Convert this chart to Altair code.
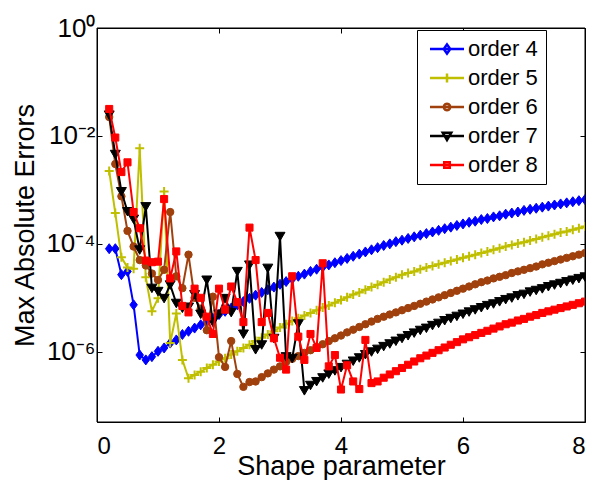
import altair as alt
import pandas as pd

shape_param = [0.2, 0.3, 0.4, 0.5, 0.6, 0.7, 0.8, 0.9, 1.0, 1.1, 1.2, 1.3, 1.4, 1.5, 1.6, 1.7,
               1.8, 1.9, 2.0, 2.1, 2.2, 2.3, 2.4, 2.5, 2.6, 2.7, 2.8, 2.9, 3.0, 3.1, 3.2, 3.3,
               3.4, 3.5, 3.6, 3.7, 3.8, 3.9, 4.0, 4.1, 4.2, 4.3, 4.4, 4.5, 4.6, 4.7, 4.8, 4.9,
               5.0, 5.1, 5.2, 5.3, 5.4, 5.5, 5.6, 5.7, 5.8, 5.9, 6.0, 6.1, 6.2, 6.3, 6.4, 6.5,
               6.6, 6.7, 6.8, 6.9, 7.0, 7.1, 7.2, 7.3, 7.4, 7.5, 7.6, 7.7, 7.8, 7.9, 8.0]

order4 = [8.13e-5, 8.13e-5, 2.69e-5, 3.09e-5, 7.41e-6, 8.71e-7, 7.08e-7, 8.13e-7, 1.02e-6, 1.18e-6,
          1.45e-6, 1.66e-6, 2.09e-6, 2.40e-6, 2.75e-6, 3.16e-6, 3.63e-6, 4.17e-6, 4.90e-6, 5.62e-6,
          6.46e-6, 7.41e-6, 8.51e-6, 9.77e-6, 1.12e-5, 1.26e-5, 1.41e-5, 1.58e-5, 1.78e-5, 2.00e-5,
          2.24e-5, 2.51e-5, 2.75e-5, 3.09e-5, 3.39e-5, 3.72e-5, 4.07e-5, 4.47e-5, 4.90e-5, 5.37e-5,
          5.89e-5, 6.46e-5, 7.08e-5, 7.76e-5, 8.51e-5, 9.33e-5, 1.00e-4, 1.10e-4, 1.17e-4, 1.26e-4,
          1.35e-4, 1.45e-4, 1.55e-4, 1.66e-4, 1.78e-4, 1.91e-4, 2.04e-4, 2.19e-4, 2.34e-4, 2.51e-4,
          2.63e-4, 2.82e-4, 2.95e-4, 3.16e-4, 3.31e-4, 3.55e-4, 3.72e-4, 3.89e-4, 4.17e-4, 4.37e-4,
          4.57e-4, 4.79e-4, 5.01e-4, 5.25e-4, 5.50e-4, 5.75e-4, 6.03e-4, 6.31e-4, 6.61e-4]

order5 = [2.24e-3, 3.72e-4, 5.62e-5, 3.63e-5, 3.47e-5, 5.89e-3, 2.40e-5, 5.62e-6, 9.77e-6, 9.33e-4,
          1.45e-6, 5.13e-6, 7.08e-7, 3.24e-7, 3.72e-7, 4.27e-7, 5.01e-7, 5.75e-7, 6.61e-7, 7.59e-7,
          8.91e-7, 1.02e-6, 1.18e-6, 1.35e-6, 1.58e-6, 1.82e-6, 2.09e-6, 2.40e-6, 2.82e-6, 3.24e-6,
          3.72e-6, 4.17e-6, 4.68e-6, 5.25e-6, 5.89e-6, 6.61e-6, 7.24e-6, 8.13e-6, 9.12e-6, 1.02e-5,
          1.15e-5, 1.26e-5, 1.41e-5, 1.58e-5, 1.74e-5, 1.95e-5, 2.19e-5, 2.40e-5, 2.69e-5, 2.88e-5,
          3.09e-5, 3.39e-5, 3.63e-5, 3.89e-5, 4.17e-5, 4.47e-5, 4.79e-5, 5.13e-5, 5.50e-5, 5.89e-5,
          6.31e-5, 6.76e-5, 7.24e-5, 7.76e-5, 8.32e-5, 8.91e-5, 9.55e-5, 1.02e-4, 1.07e-4, 1.15e-4,
          1.23e-4, 1.32e-4, 1.41e-4, 1.51e-4, 1.62e-4, 1.70e-4, 1.82e-4, 1.95e-4, 2.09e-4]

order6 = [2.24e-2, 3.02e-3, 7.59e-4, 1.74e-4, 8.91e-5, 5.01e-5, 3.98e-5, 2.82e-5, 2.14e-5, 3.31e-5,
          3.89e-4, 2.51e-5, 1.51e-5, 6.31e-5, 1.00e-5, 6.31e-6, 2.51e-6, 1.05e-5, 7.94e-7, 5.25e-7,
          1.58e-6, 3.89e-7, 2.24e-7, 2.75e-7, 2.82e-7, 3.39e-7, 3.98e-7, 4.68e-7, 5.37e-7, 6.46e-7,
          7.41e-7, 8.32e-7, 9.55e-7, 1.07e-6, 1.23e-6, 1.38e-6, 1.58e-6, 1.78e-6, 2.00e-6, 2.29e-6,
          2.57e-6, 2.88e-6, 3.24e-6, 3.63e-6, 4.07e-6, 4.47e-6, 4.90e-6, 5.37e-6, 5.89e-6, 6.46e-6,
          7.08e-6, 7.76e-6, 8.51e-6, 9.33e-6, 1.02e-5, 1.12e-5, 1.23e-5, 1.35e-5, 1.48e-5, 1.62e-5,
          1.78e-5, 1.95e-5, 2.09e-5, 2.29e-5, 2.45e-5, 2.63e-5, 2.88e-5, 3.09e-5, 3.31e-5, 3.55e-5,
          3.80e-5, 4.17e-5, 4.47e-5, 4.79e-5, 5.13e-5, 5.50e-5, 5.89e-5, 6.31e-5, 6.76e-5]

order7 = [2.45e-2, 4.57e-3, 9.33e-4, 3.98e-4, 2.88e-4, 7.76e-5, 4.90e-4, 1.51e-5, 1.32e-5, 9.77e-6,
          1.74e-5, 7.94e-6, 6.46e-6, 6.76e-6, 1.15e-5, 5.01e-6, 2.14e-5, 3.55e-6, 5.01e-6, 9.77e-6,
          5.37e-6, 3.09e-5, 2.14e-6, 4.07e-5, 1.10e-6, 1.35e-6, 3.55e-5, 1.78e-6, 1.38e-4, 8.13e-7,
          7.59e-7, 3.31e-6, 1.91e-7, 2.40e-7, 2.82e-7, 3.31e-7, 3.89e-7, 4.47e-7, 5.13e-7, 5.89e-7,
          6.76e-7, 7.76e-7, 8.91e-7, 1.00e-6, 1.12e-6, 1.26e-6, 1.41e-6, 1.58e-6, 1.78e-6, 2.00e-6,
          2.24e-6, 2.51e-6, 2.75e-6, 3.09e-6, 3.39e-6, 3.80e-6, 4.17e-6, 4.57e-6, 5.01e-6, 5.50e-6,
          6.03e-6, 6.61e-6, 7.24e-6, 7.76e-6, 8.51e-6, 9.33e-6, 1.00e-5, 1.10e-5, 1.17e-5, 1.29e-5,
          1.38e-5, 1.48e-5, 1.62e-5, 1.74e-5, 1.86e-5, 2.00e-5, 2.14e-5, 2.29e-5, 2.45e-5]

order8 = [3.16e-2, 9.33e-3, 2.14e-3, 3.24e-3, 3.89e-4, 1.95e-4, 4.90e-5, 4.57e-5, 4.68e-5, 6.76e-4,
          2.29e-5, 7.24e-5, 7.08e-6, 5.37e-6, 1.48e-5, 1.00e-5, 4.47e-6, 2.14e-6, 1.48e-5, 6.03e-6,
          1.62e-5, 8.32e-6, 3.55e-6, 2.00e-4, 5.01e-5, 3.55e-6, 5.25e-6, 1.78e-6, 7.76e-7, 4.68e-7,
          2.51e-5, 1.91e-6, 7.08e-7, 2.14e-6, 1.18e-6, 4.37e-5, 5.37e-7, 8.71e-7, 2.00e-7, 5.62e-7,
          2.82e-7, 2.04e-7, 1.66e-6, 2.63e-7, 2.82e-7, 3.31e-7, 3.80e-7, 4.37e-7, 5.01e-7, 5.75e-7,
          6.61e-7, 7.59e-7, 8.51e-7, 9.55e-7, 1.07e-6, 1.20e-6, 1.35e-6, 1.51e-6, 1.70e-6, 1.86e-6,
          2.04e-6, 2.24e-6, 2.45e-6, 2.69e-6, 2.95e-6, 3.24e-6, 3.47e-6, 3.80e-6, 4.07e-6, 4.47e-6,
          4.79e-6, 5.25e-6, 5.62e-6, 6.03e-6, 6.46e-6, 6.92e-6, 7.41e-6, 7.94e-6, 8.51e-6]

series_names = ["order 4", "order 5", "order 6", "order 7", "order 8"]
series_colors = ["#0000ff", "#bfbf00", "#a0410d", "#000000", "#ff0000"]
x_ticks = [0, 2, 4, 6, 8]
y_ticks = [1, 1e-2, 1e-4, 1e-6]

# marker shapes (unit paths) and sizes for each series
marker_paths = ["M0,-1L0.75,0L0,1L-0.75,0Z", "M-1,0H1M0,-1V1", "circle",
                "M-1,-0.8L1,-0.8L0,0.9Z", "square"]
marker_sizes = [100, 81, 55, 100, 50]
marker_filled = [True, False, True, True, True]

# legend symbols: a short line with the marker in the middle
legend_paths = [
    "M-1.2,0H5.6M2.2,-0.9L2.85,0L2.2,0.9L1.55,0Z",
    "M-1.2,0H5.6M1.3,0H3.1M2.2,-0.9V0.9",
    "M-1.2,0H5.6M2.85,0L2.76,0.33L2.53,0.56L2.2,0.65L1.87,0.56L1.64,0.33L1.55,0"
    "L1.64,-0.33L1.87,-0.56L2.2,-0.65L2.53,-0.56L2.76,-0.33Z",
    "M-1.2,0H5.6M1.35,-0.65L3.05,-0.65L2.2,0.8Z",
    "M-1.2,0H5.6M1.65,-0.55H2.75V0.55H1.65Z",
]

rows = []
for name, vals in zip(series_names, [order4, order5, order6, order7, order8]):
    for xv, v in zip(shape_param, vals):
        rows.append({"x": xv, "err": v, "series": name})
df = pd.DataFrame(rows)

FONT = "Liberation Sans"
xscale = alt.Scale(domain=[0, 8], nice=False, zero=False)
yscale = alt.Scale(type="log", domain=[5e-8, 1], nice=False)

x_axis = alt.Axis(values=x_ticks, format="d", title="Shape parameter", offset=-5,
                  tickSize=5, labelPadding=12, domain=False, grid=False,
                  labelFont=FONT, labelFontSize=24, titleFont=FONT, titleFontSize=27,
                  titleFontWeight="normal", labelColor="black", titleColor="black",
                  tickColor="black", titlePadding=-5)
y_axis = alt.Axis(values=y_ticks, title="Max Absolute Errors", offset=-5,
                  tickSize=5, labelPadding=2, domain=False, grid=False,
                  labelExpr="datum.value >= 0.5 ? '10⁰' : datum.value >= 0.005 ? '10⁻²' : datum.value >= 0.00005 ? '10⁻⁴' : '10⁻⁶'",
                  labelFont=FONT, labelFontSize=26, titleFont=FONT, titleFontSize=27,
                  titleFontWeight="normal", labelColor="black", titleColor="black",
                  tickColor="black", titlePadding=6)
top_axis = alt.Axis(orient="top", values=x_ticks, labels=False, domain=False, grid=False,
                    tickSize=5, offset=-5, title=None, tickColor="black")
right_axis = alt.Axis(orient="right", values=y_ticks, labels=False, domain=False, grid=False,
                      tickSize=5, offset=-5, title=None, tickColor="black")

base = alt.Chart(df)

# plot frame (box around the data rectangle)
frame = alt.Chart(pd.DataFrame({"box": [0]})).mark_rect(
    fill="transparent", stroke="black", strokeWidth=1
).encode(x=alt.value(0), x2=alt.value("width"), y=alt.value(0), y2=alt.value("height"))

layers = [frame]
first = True
for name, col, path, size, filled in zip(series_names, series_colors, marker_paths,
                                         marker_sizes, marker_filled):
    sub = base.transform_filter(alt.datum.series == name)
    if first:
        enc = dict(x=alt.X("x:Q", scale=xscale, axis=x_axis),
                   y=alt.Y("err:Q", scale=yscale, axis=y_axis))
        first = False
    else:
        enc = dict(x=alt.X("x:Q", scale=xscale, axis=None),
                   y=alt.Y("err:Q", scale=yscale, axis=None))
    layers.append(sub.mark_line(color=col, strokeWidth=2, clip=True).encode(**enc))
    if filled:
        mk = dict(shape=path, size=size, fill=col, stroke=col, strokeWidth=1,
                  opacity=1, fillOpacity=1, clip=True)
    else:
        mk = dict(shape=path, size=size, fill="transparent", stroke=col, strokeWidth=2,
                  opacity=1, clip=True)
    layers.append(sub.mark_point(**mk).encode(
        x=alt.X("x:Q", scale=xscale, axis=None),
        y=alt.Y("err:Q", scale=yscale, axis=None),
    ))

legend = alt.Legend(title=None, orient="none", legendX=320, legendY=2, padding=8,
                    strokeColor="black", fillColor="white", labelFont=FONT,
                    labelFontSize=22, labelColor="black", labelOffset=21, rowPadding=7,
                    symbolSize=100, symbolStrokeWidth=2.5, symbolOpacity=1)

# invisible marks that only carry the legend (line + marker symbols) and the top/right ticks
legend_layer = base.transform_filter("datum.x < 0.25").mark_point(
    opacity=0, filled=False, strokeWidth=2
).encode(
    x=alt.X("x:Q", scale=xscale, axis=top_axis),
    y=alt.Y("err:Q", scale=yscale, axis=right_axis),
    color=alt.Color("series:N", scale=alt.Scale(domain=series_names, range=series_colors),
                    legend=legend),
    shape=alt.Shape("series:N", scale=alt.Scale(domain=series_names, range=legend_paths),
                    legend=legend),
)
layers.append(legend_layer)

chart = alt.layer(*layers).resolve_axis(x="independent", y="independent").properties(
    width=488, height=394,
    autosize=alt.AutoSizeParams(type="none"),
    padding={"left": 89, "top": 20, "right": 2, "bottom": 58},
    background="white",
).configure_view(stroke="black", strokeWidth=1)

chart.save("out.html", embed_options={"renderer": "svg", "actions": False})
